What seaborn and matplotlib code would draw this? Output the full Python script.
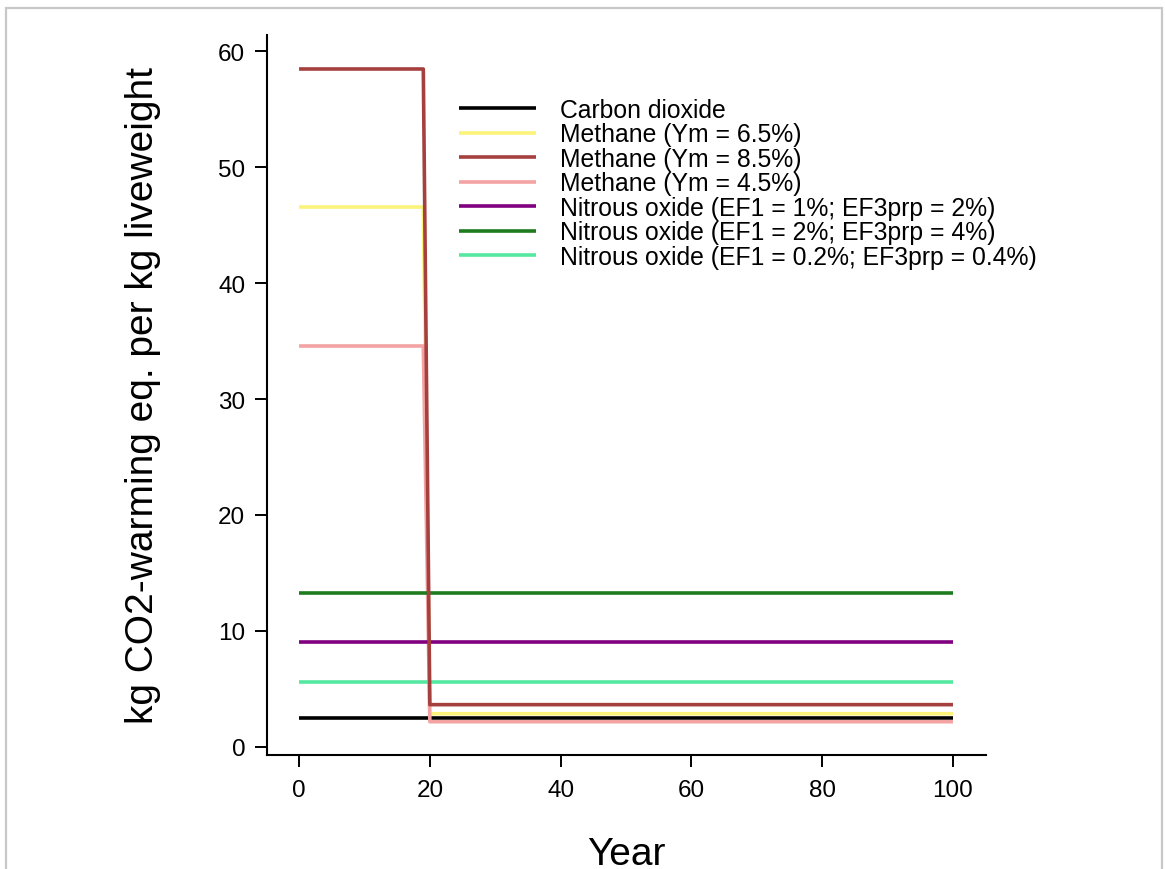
import numpy as np
import pandas as pd
import matplotlib
matplotlib.use("Agg")
import matplotlib.pyplot as plt
from matplotlib.patches import Rectangle
import seaborn as sns

# ---- data ----
years = [0, 19, 20, 100]
co2 = [2.47, 2.47, 2.47, 2.47]
ch4_65 = [46.55, 46.55, 2.87, 2.87]
ch4_85 = [58.45, 58.45, 3.65, 3.65]
ch4_45 = [34.57, 34.57, 2.18, 2.18]
n2o_1 = [9.05, 9.05, 9.05, 9.05]
n2o_2 = [13.3, 13.3, 13.3, 13.3]
n2o_02 = [5.57, 5.57, 5.57, 5.57]

series_names = [
    "Carbon dioxide",
    "Methane (Ym = 6.5%)",
    "Methane (Ym = 8.5%)",
    "Methane (Ym = 4.5%)",
    "Nitrous oxide (EF1 = 1%; EF3prp = 2%)",
    "Nitrous oxide (EF1 = 2%; EF3prp = 4%)",
    "Nitrous oxide (EF1 = 0.2%; EF3prp = 0.4%)",
]
series_values = [co2, ch4_65, ch4_85, ch4_45, n2o_1, n2o_2, n2o_02]
colors = ["#000000", "#fbf37a", "#a5403f", "#f4a3a3", "#800080", "#1e7b1e", "#55e8a0"]

x_ticks = [0, 20, 40, 60, 80, 100]
y_ticks = [0, 10, 20, 30, 40, 50, 60]

rows = []
for name, vals in zip(series_names, series_values):
    for yr, v in zip(years, vals):
        rows.append({"Year": yr, "value": v, "series": name})
df = pd.DataFrame(rows)

# ---- figure ----
sns.set_theme(style="ticks")
plt.rcParams["font.family"] = ["Liberation Sans", "DejaVu Sans"]

W, H = 1165, 870
fig = plt.figure(figsize=(W / 100, H / 100), dpi=100)
fig.patch.set_facecolor("white")

ax_l, ax_r, ax_t, ax_b = 267, 986, 36, 756
ax = fig.add_axes([ax_l / W, 1 - ax_b / H, (ax_r - ax_l) / W, (ax_b - ax_t) / H])
ax.set_facecolor("white")

sns.lineplot(data=df, x="Year", y="value", hue="series", hue_order=series_names,
             palette=colors, sort=False, estimator=None, linewidth=2.6, ax=ax,
             legend=True)
lines = ax.get_lines()
for ln in lines:
    ln.set_solid_capstyle("butt")
# the 8.5% methane step sits on top of the other methane steps
lines[2].set_zorder(2.6)

ax.set_xlim(-4.9, 105.05)
ax.set_ylim(-0.69, 61.38)
ax.set_xticks(x_ticks)
ax.set_yticks(y_ticks)
ax.set_xlabel("")
ax.set_ylabel("")

for side in ["top", "right"]:
    ax.spines[side].set_visible(False)
for side in ["left", "bottom"]:
    ax.spines[side].set_color("black")
    ax.spines[side].set_linewidth(1.5)
ax.tick_params(axis="both", direction="out", length=8.6, width=1.4, color="black",
               labelsize=17.5, labelcolor="black")
ax.tick_params(axis="x", pad=9)
ax.tick_params(axis="y", pad=7)

handles, labels = ax.get_legend_handles_labels()
leg = ax.legend(handles, labels, loc="upper left",
                bbox_to_anchor=(459 / W, 1 - 99 / H), bbox_transform=fig.transFigure,
                frameon=False, fontsize=17.8, handlelength=3.1, handletextpad=1.0,
                labelspacing=0.02, borderpad=0, borderaxespad=0)
for lh in leg.get_lines():
    lh.set_linewidth(2.6)
    lh.set_solid_capstyle("butt")
for t in leg.get_texts():
    t.set_color("black")

fig.text(143 / W, 1 - 395 / H, "kg CO2-warming eq. per kg liveweight",
         rotation=90, ha="center", va="center", fontsize=28, color="black")
fig.text(626.5 / W, 1 - 865 / H, "Year", ha="center", va="baseline",
         fontsize=28, color="black")

fig.add_artist(Rectangle((6 / W, -0.05), (1162 - 6) / W, 1.05 - 9 / H,
                         transform=fig.transFigure, fill=False,
                         edgecolor="#c8c8c8", linewidth=1.6))

fig.savefig("out.png", dpi=100, facecolor="white")
